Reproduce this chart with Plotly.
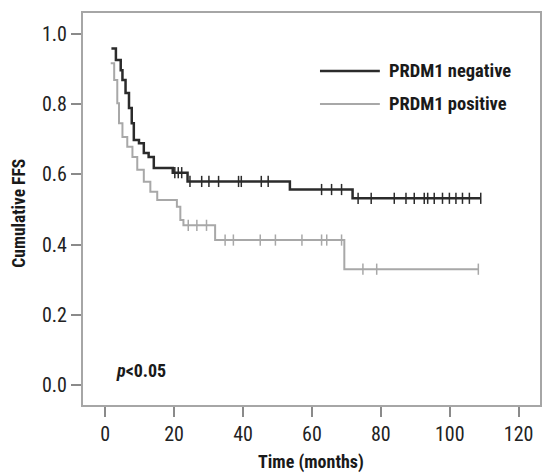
import plotly.graph_objects as go

# PRDM1 negative (black) KM steps: time, survival after step
neg_t = [1.8, 3.1, 4.5, 5.0, 5.9, 6.9, 7.7, 8.3, 9.8, 11.2, 12.6, 14.1, 19.6, 23.9, 53.6, 71.8, 109.0]
neg_s = [0.959, 0.926, 0.897, 0.869, 0.832, 0.789, 0.746, 0.698, 0.689, 0.661, 0.650, 0.618, 0.605, 0.580, 0.557, 0.532, 0.532]
neg_cens_t = [20.2, 21.2, 22.2, 24.6, 28.0, 30.1, 32.9, 38.7, 39.5, 45.3, 47.3,
              62.8, 65.7, 68.6,
              73.4, 77.2, 83.9, 87.3, 89.7, 92.6, 93.6, 95.5, 97.9, 99.9, 101.8, 103.7, 105.7, 109.0]

# PRDM1 positive (gray) KM steps
pos_t = [1.6, 2.6, 3.5, 4.0, 5.0, 6.4, 7.9, 9.3, 11.2, 13.1, 15.1, 20.8, 21.8, 22.7, 31.9, 69.4, 108.3]
pos_s = [0.917, 0.869, 0.803, 0.746, 0.707, 0.679, 0.650, 0.613, 0.579, 0.551, 0.527, 0.508, 0.470, 0.455, 0.413, 0.330, 0.330]
pos_cens_t = [24.1, 26.6, 29.4, 34.8, 37.2, 45.0, 49.4, 57.1, 62.8, 64.3, 68.6, 74.8, 78.8, 108.3]

x_ticks = [0, 20, 40, 60, 80, 100, 120]
y_ticks = [0.0, 0.2, 0.4, 0.6, 0.8, 1.0]
y_ticktext = ["0.0", "0.2", "0.4", "0.6", "0.8", "1.0"]


def km_level(times, levels, t):
    s = levels[0]
    for ti, si in zip(times, levels):
        if ti <= t:
            s = si
    return s


FONT = "Roboto Condensed, Archivo Narrow, Liberation Sans Narrow, DejaVu Sans Condensed, sans-serif"
NEG_C = "#2b2b2b"
POS_C = "#a8a8a8"
TXT_C = "#1a1a1a"

W, H = 542, 473
L, R, T, B = 82.5, 1.5, 13, 68
PW, PH = W - L - R, H - T - B


def px(x):
    return (x - L) / PW


def py(y):
    return (H - B - y) / PH


fig = go.Figure()
fig.add_trace(go.Scatter(x=pos_t, y=pos_s, mode="lines", line=dict(shape="hv", color=POS_C, width=2),
                         showlegend=False, hoverinfo="skip"))
fig.add_trace(go.Scatter(x=pos_cens_t, y=[km_level(pos_t, pos_s, t) for t in pos_cens_t], mode="markers",
                         marker=dict(symbol="line-ns", size=8, line=dict(color=POS_C, width=1.5)),
                         showlegend=False, hoverinfo="skip"))
fig.add_trace(go.Scatter(x=neg_t, y=neg_s, mode="lines", line=dict(shape="hv", color=NEG_C, width=2.5),
                         showlegend=False, hoverinfo="skip"))
fig.add_trace(go.Scatter(x=neg_cens_t, y=[km_level(neg_t, neg_s, t) for t in neg_cens_t], mode="markers",
                         marker=dict(symbol="line-ns", size=8, line=dict(color=NEG_C, width=1.5)),
                         showlegend=False, hoverinfo="skip"))

# legend drawn manually
fig.add_shape(type="line", xref="paper", yref="paper", x0=px(320), x1=px(380), y0=py(71), y1=py(71),
              line=dict(color=NEG_C, width=2.5))
fig.add_shape(type="line", xref="paper", yref="paper", x0=px(320), x1=px(380), y0=py(104), y1=py(104),
              line=dict(color=POS_C, width=2))
fig.add_annotation(xref="paper", yref="paper", x=px(387), y=py(71), text="<b>PRDM1 negative</b>",
                   showarrow=False, xanchor="left", yanchor="middle", font=dict(family=FONT, size=18.5, color=TXT_C))
fig.add_annotation(xref="paper", yref="paper", x=px(387), y=py(104), text="<b>PRDM1 positive</b>",
                   showarrow=False, xanchor="left", yanchor="middle", font=dict(family=FONT, size=18.5, color=TXT_C))
fig.add_annotation(xref="paper", yref="paper", x=px(114), y=py(370), text="<b><i>p</i>&lt;0.05</b>",
                   showarrow=False, xanchor="left", yanchor="middle", font=dict(family=FONT, size=18, color=TXT_C))

# axis titles
fig.add_annotation(xref="paper", yref="paper", x=px(311), y=py(462), text="<b>Time (months)</b>",
                   showarrow=False, xanchor="center", yanchor="middle", font=dict(family=FONT, size=18, color=TXT_C))
fig.add_annotation(xref="paper", yref="paper", x=px(18), y=py(213), text="<b>Cumulative FFS</b>",
                   showarrow=False, textangle=-90, xanchor="center", yanchor="middle",
                   font=dict(family=FONT, size=17.5, color=TXT_C))

axis_common = dict(showline=True, linecolor="#a6a6a6", linewidth=2, mirror=True, showgrid=False, zeroline=False,
                   ticks="outside", ticklen=10, tickwidth=1.5, tickcolor="#8a8a8a", automargin=False,
                   tickfont=dict(family=FONT, size=20, color="#222222"))
fig.update_layout(
    width=W, height=H, margin=dict(l=L, r=R, t=T, b=B, pad=0),
    paper_bgcolor="white", plot_bgcolor="white",
    xaxis=dict(range=[-6.45, 126.2], tickvals=x_ticks, **axis_common),
    yaxis=dict(range=[-0.057, 1.06], tickvals=y_ticks, ticktext=y_ticktext, **axis_common),
)
fig.write_html("out.html", config={"displayModeBar": False},
               post_script="document.body.style.margin='0';document.body.style.overflow='hidden';")
